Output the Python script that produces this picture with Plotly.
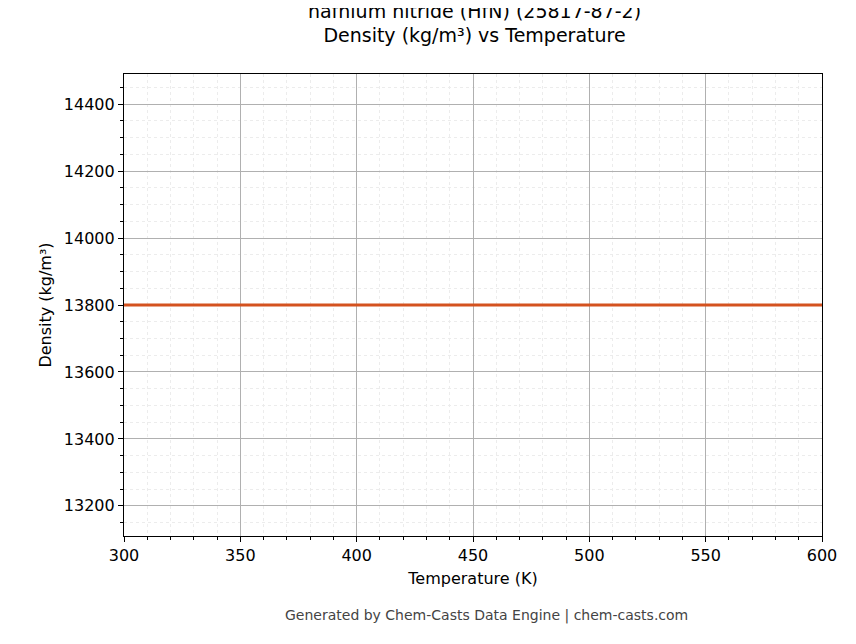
import plotly.graph_objects as go

temperature = [300, 600]
density = [13800, 13800]

fig = go.Figure()
fig.add_trace(go.Scatter(x=temperature, y=density, mode="lines",
                         line=dict(color="#d4521f", width=3), showlegend=False))

axis_common = dict(
    showline=True, linecolor="black", linewidth=1.2, mirror=True,
    ticks="outside", ticklen=5, tickcolor="black",
    showgrid=True, gridcolor="#b0b0b0", gridwidth=0.8,
    tickfont=dict(size=16, color="black"), zeroline=False, automargin=False,
)
fig.update_xaxes(**axis_common, range=[300, 600], dtick=50,
                 title=dict(text="Temperature (K)", font=dict(size=16, color="black"), standoff=8),
                 minor=dict(dtick=10, ticks="outside", ticklen=3, tickcolor="black",
                            showgrid=True, gridcolor="#ececec", griddash="dot", gridwidth=0.6))
fig.update_yaxes(**axis_common, range=[13110, 14490], dtick=200, tickformat="d",
                 title=dict(text="Density (kg/m³)", font=dict(size=16, color="black"), standoff=8),
                 minor=dict(dtick=50, ticks="outside", ticklen=3, tickcolor="black",
                            showgrid=True, gridcolor="#ececec", griddash="dot", gridwidth=0.6))

fig.update_layout(
    width=856, height=644,
    plot_bgcolor="white", paper_bgcolor="white",
    font=dict(family="DejaVu Sans", color="black"),
    margin=dict(l=116, r=42, t=66, b=116),
    title=dict(text="hafnium nitride (HfN) (25817-87-2)<br>Density (kg/m³) vs Temperature",
               x=0.545, xanchor="center", y=0.985, yanchor="top", font=dict(size=19)),
    annotations=[dict(text="Generated by Chem-Casts Data Engine | chem-casts.com",
                      xref="paper", yref="paper", x=0.52, y=-0.15, xanchor="center",
                      yanchor="top", showarrow=False, font=dict(size=14, color="#444444"))],
)

fig.write_html("out.html")
